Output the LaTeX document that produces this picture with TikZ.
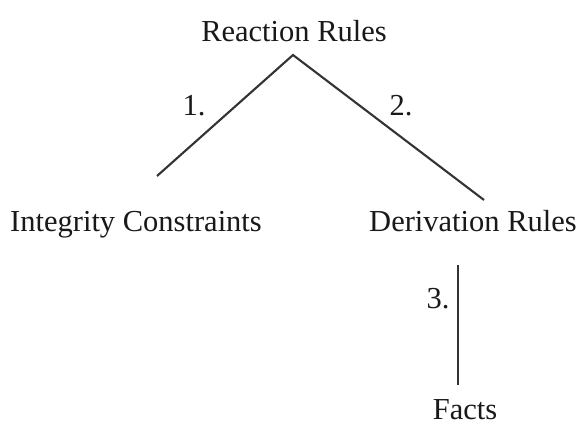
\documentclass[tikz,border=0pt]{standalone}
\usepackage{fontspec}
\setmainfont{Liberation Serif}
\begin{document}
\begin{tikzpicture}[x=1pt,y=-1pt,
  lbl/.style={anchor=base,inner sep=0pt,font=\fontsize{30.5}{33}\selectfont,text=black!90},
  num/.style={anchor=base,inner sep=0pt,font=\fontsize{30.5}{33}\selectfont,text=black!90},
  edge/.style={draw=black!80,line width=2.1pt}]
\useasboundingbox[fill=white] (0,0) rectangle (579,425);
\node[lbl] (rr) at (294,42) {Reaction Rules};
\node[lbl] (ic) at (136,232) {Integrity Constraints};
\node[lbl] (dr) at (473,232) {Derivation Rules};
\node[lbl] (fa) at (465,419) {Facts};
\coordinate (apex) at (293,55);
\coordinate (icTop) at (157,176);
\coordinate (drTop) at (484,200);
\coordinate (drBot) at (458,265);
\coordinate (faTop) at (458,385);
\draw[edge] (icTop) -- (apex) -- (drTop);
\draw[edge] (drBot) -- (faTop);
\node[num] (n1) at (194,116) {1.};
\node[num] (n2) at (401,116) {2.};
\node[num] (n3) at (438,308) {3.};
\end{tikzpicture}
\end{document}
